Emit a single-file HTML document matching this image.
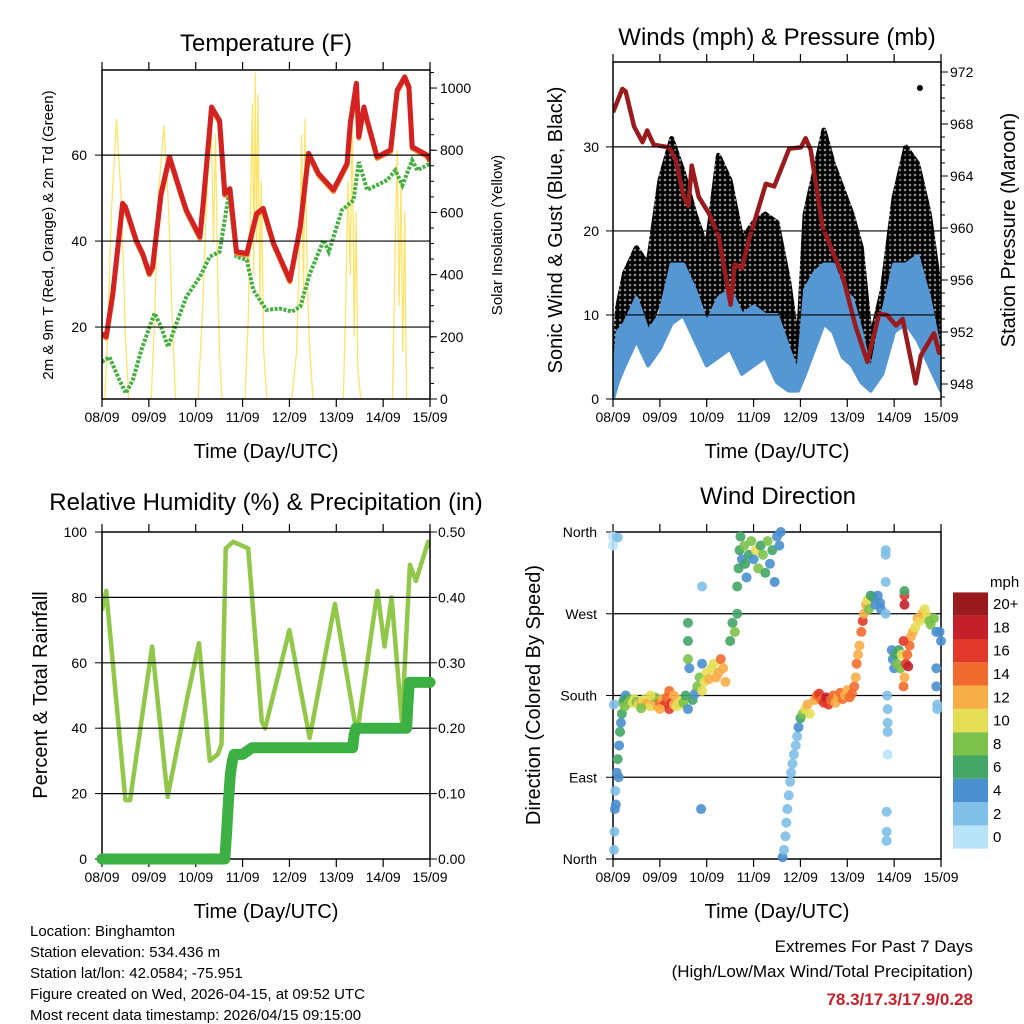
<!DOCTYPE html>
<html><head><meta charset="utf-8">
<style>
html,body{margin:0;padding:0;background:#fff;}
svg{display:block;font-family:"Liberation Sans",sans-serif;}
</style></head>
<body>
<svg id="c" width="1024" height="1024" viewBox="0 0 1024 1024" xmlns="http://www.w3.org/2000/svg">
<defs>
<pattern id="dots" width="5" height="5" patternUnits="userSpaceOnUse">
<rect width="5" height="5" fill="#000" fill-opacity="0.25"/>
<circle cx="2.5" cy="2.5" r="2.6" fill="#000"/>
</pattern>
</defs>
<g id="g"></g>
<text x="266" y="51" font-size="24" text-anchor="middle">Temperature (F)</text>
<text x="777" y="45" font-size="24" text-anchor="middle">Winds (mph) &amp; Pressure (mb)</text>
<text x="266" y="510" font-size="24" text-anchor="middle">Relative Humidity (%) &amp; Precipitation (in)</text>
<text x="778" y="504" font-size="24" text-anchor="middle">Wind Direction</text>
<text x="266" y="458" font-size="20" text-anchor="middle">Time (Day/UTC)</text>
<text x="777" y="458" font-size="20" text-anchor="middle">Time (Day/UTC)</text>
<text x="266" y="918" font-size="20" text-anchor="middle">Time (Day/UTC)</text>
<text x="777" y="918" font-size="20" text-anchor="middle">Time (Day/UTC)</text>
<text transform="translate(53,235) rotate(-90)" font-size="15" text-anchor="middle">2m &amp; 9m T (Red, Orange) &amp; 2m Td (Green)</text>
<text transform="translate(502,235) rotate(-90)" font-size="15" text-anchor="middle">Solar Insolation (Yellow)</text>
<text transform="translate(562,230) rotate(-90)" font-size="20" text-anchor="middle">Sonic Wind &amp; Gust (Blue, Black)</text>
<text transform="translate(1015,230) rotate(-90)" font-size="20" text-anchor="middle">Station Pressure (Maroon)</text>
<text transform="translate(47,695) rotate(-90)" font-size="20" text-anchor="middle">Percent &amp; Total Rainfall</text>
<text transform="translate(540,695) rotate(-90)" font-size="20" text-anchor="middle">Direction (Colored By Speed)</text>
<g font-size="15">
<text x="30" y="936">Location: Binghamton</text>
<text x="30" y="957">Station elevation: 534.436 m</text>
<text x="30" y="978">Station lat/lon: 42.0584; -75.951</text>
<text x="30" y="999">Figure created on Wed, 2026-04-15, at 09:52 UTC</text>
<text x="30" y="1020">Most recent data timestamp: 2026/04/15 09:15:00</text>
</g>
<g text-anchor="end">
<text x="973" y="952" font-size="17">Extremes For Past 7 Days</text>
<text x="973" y="977" font-size="17">(High/Low/Max Wind/Total Precipitation)</text>
<text x="973" y="1005" font-size="17" font-weight="bold" fill="#c8202a">78.3/17.3/17.9/0.28</text>
</g>
<text x="990" y="587" font-size="15">mph</text>
</svg>
<script>
const dayLabels=["08/09","09/09","10/09","11/09","12/09","13/09","14/09","15/09"];
const tempT=[0,0.09,0.23,0.44,0.5,0.73,0.87,1.01,1.08,1.26,1.44,1.66,1.8,2.09,2.16,2.34,2.51,2.62,2.73,2.87,3.09,3.3,3.44,3.66,4.01,4.23,4.41,4.62,4.94,5.23,5.3,5.43,5.48,5.59,5.66,5.87,6.16,6.3,6.46,6.55,6.62,6.94,7.0];
const tempV=[18.5,17.8,27.8,48.8,48,40.2,37,32.5,34,51,59.6,51.9,47.2,41,48.8,71.2,68,51,52.2,37.5,37.1,46.4,47.6,39.5,30.9,43.3,60.4,55.7,51.9,58.1,67.4,76.7,64.3,71.2,68.1,59.6,61.2,75.1,78.2,75.9,61.9,60,58.8];
const dewT=[0,0.16,0.37,0.51,0.66,0.84,1.12,1.26,1.41,1.59,1.8,2.09,2.3,2.51,2.71,2.87,3.09,3.23,3.51,3.8,4.05,4.23,4.44,4.73,4.84,5.12,5.37,5.48,5.66,6.09,6.26,6.41,6.62,6.73,7.0];
const dewV=[11.9,13,7.7,4.6,7.7,14.7,23.2,20.1,15.4,20.9,27,31.7,36.4,37.5,51.1,36.4,35.6,28.6,24,24.3,23.6,24.7,32.5,40.2,37.5,47.2,49.5,58.4,51.9,54.2,56.5,53,58.8,56.5,58];
const solarT=[0,0.06,0.12,0.2,0.31,0.42,0.5,0.57,1.05,1.12,1.2,1.32,1.42,1.5,1.57,2.05,2.15,2.25,2.33,2.38,2.42,2.48,2.52,2.56,3.05,3.12,3.18,3.21,3.24,3.27,3.3,3.33,3.37,3.4,3.45,3.52,4.05,4.15,4.22,4.26,4.3,4.33,4.38,4.42,4.5,5.15,5.2,5.25,5.3,5.34,5.38,5.42,5.46,5.52,6.2,6.26,6.3,6.34,6.38,6.42,6.46,6.5,7.0];
const solarV=[0,0,200,600,900,620,200,0,0,250,650,880,620,250,0,0,300,700,880,500,850,300,100,0,0,250,700,950,400,1050,500,980,300,700,150,0,0,150,500,850,300,900,400,200,0,0,300,700,400,950,200,600,100,0,0,500,800,300,700,150,600,0,0];
const pressT=[0,0.2,0.27,0.45,0.63,0.73,0.87,1.2,1.34,1.51,1.61,1.68,1.83,2.05,2.26,2.51,2.6,2.75,2.9,3.12,3.26,3.44,3.76,4.01,4.11,4.22,4.47,4.9,5.18,5.43,5.68,5.85,6.04,6.18,6.46,6.57,6.85,6.96,7.0];
const pressV=[968.9,970.7,970.5,967.8,966.6,967.5,966.4,966.2,965.2,962.4,961.7,964.8,962.4,961.1,959.3,954.1,957.2,956.9,959.1,961.7,963.4,963.2,966.1,966.2,966.9,966,960.1,956.3,952.4,949.7,953.4,953.3,952.5,953,948.05,950.2,951.9,950.4,951];
const envT=[0,0.1,0.25,0.5,0.75,1.0,1.25,1.5,1.75,2.0,2.25,2.5,2.75,3.0,3.25,3.5,3.75,3.95,4.1,4.3,4.5,4.7,4.9,5.1,5.3,5.5,5.75,6.0,6.25,6.5,6.75,7.0];
const windHi=[2,8,9,12,8,10,16,16,13,9,12,13,10,11,10,10,6,3,13,15,16,16,13,12,8,3,10,16,16,17,12,5];
const windLo=[0,2,4,7,4,6,9,10,7,4,5,6,3,4,5,2,1,1,3,6,9,8,5,4,2,1,3,8,9,7,4,1];
const gustHi=[3,11,15,18,16,26,31,27,22,18,29,26,19,21,22,21,14,6,22,27,32,28,25,22,18,7,13,24,30,28,22,12];
const gustLo=[1,5,8,10,8,12,16,15,11,8,12,11,7,8,9,8,3,2,10,13,16,14,10,8,5,2,6,14,16,13,8,3];
const gustOutT=[6.55];
const gustOutV=[37];
const rhT=[0,0.09,0.5,0.6,1.07,1.4,1.83,2.07,2.3,2.47,2.55,2.64,2.8,3.12,3.41,3.48,4.0,4.43,4.97,5.44,5.88,6.03,6.18,6.4,6.57,6.7,6.96,7.0];
const rhV=[76,82,18,18,65,19,50,66,30,32,35,95,97,95,42,40,70,37,78,38,82,65,80,42,90,85,97,95];
const prT=[0,2.62,2.66,2.7,2.74,2.78,2.82,3.0,3.2,5.35,5.38,5.42,6.5,6.53,6.56,7.0];
const prV=[0,0,0.04,0.09,0.13,0.15,0.16,0.16,0.17,0.17,0.19,0.2,0.2,0.24,0.27,0.27];
const dirT=[0.02,0.03,0.04,0.05,0.06,0.08,0.1,0.12,0.13,0.15,0.17,0.19,0.21,0.23,0.25,0.27,0.3,0.33,0.0,0.0,0.1,0.02,
0.38,0.42,0.46,0.5,0.55,0.6,0.65,0.7,0.75,0.8,0.85,0.9,0.95,1.0,1.05,1.1,1.15,1.2,1.25,1.3,1.35,1.4,1.45,1.2,1.0,0.8,0.6,1.3,
1.5,1.55,1.6,1.7,1.75,1.8,1.85,1.9,1.95,2.0,2.05,2.1,2.15,2.2,2.25,2.3,2.35,2.4,1.6,1.6,1.6,1.63,1.9,1.9,1.88,
2.5,2.55,2.6,2.65,2.65,2.68,2.7,2.72,2.75,2.8,2.82,2.85,2.9,2.95,3.0,3.05,3.1,3.15,3.2,3.25,3.3,3.35,3.4,3.45,3.5,3.55,3.58,
3.62,3.65,3.68,3.7,3.72,3.75,3.78,3.8,3.83,3.86,3.9,3.93,3.96,4.0,4.05,4.1,4.15,4.2,
4.3,4.35,4.4,4.45,4.5,4.55,4.6,4.65,4.7,4.75,4.8,4.85,4.9,4.95,5.0,5.05,5.1,
5.15,5.18,5.2,5.23,5.26,5.3,5.33,5.36,5.4,5.43,5.46,5.5,5.55,5.6,5.65,5.7,5.72,
5.82,5.82,5.82,5.82,5.85,5.86,5.86,5.86,5.86,5.84,5.84,5.84,
5.95,5.97,6.0,6.03,6.06,6.1,6.13,6.16,
6.2,6.22,6.25,6.28,6.3,6.33,6.36,6.4,6.45,6.5,6.55,6.6,6.65,6.7,6.75,6.78,6.2,6.22,6.22,6.22,
6.85,6.9,6.9,6.92,6.92,6.9,7.0,6.97];
const dirV=[10,30,55,75,60,95,110,90,125,140,150,160,172,175,168,180,176,172,355,345,354,170,
175,172,176,173,170,172,175,170,172,168,175,178,168,172,176,170,178,165,172,170,168,175,170,185,165,180,166,180,
172,180,165,175,182,190,200,185,195,205,198,210,215,200,205,220,210,195,260,240,220,210,215,300,55,
240,260,250,270,300,320,340,355,330,345,325,310,335,350,330,340,320,345,335,315,350,325,340,305,355,345,360,
2,10,25,40,55,70,85,95,105,115,125,135,145,155,160,165,170,160,
175,180,182,175,172,178,170,175,180,172,178,183,176,180,186,178,182,
190,200,215,225,235,250,262,270,280,285,275,290,288,280,290,282,275,
340,335,305,270,180,165,150,140,115,52,30,20,
230,220,210,225,215,230,210,225,
190,200,215,225,212,235,245,250,255,265,262,270,275,268,262,258,240,290,295,280,
265,250,210,170,165,190,240,250];
const dirS=[2,2,4,3,4,4,6,5,4,6,4,6,8,6,8,4,7,8,1,0,2,2,
9,11,10,8,10,12,11,13,12,10,12,9,12,15,13,16,14,17,16,13,10,11,10,15,12,11,9,12,
8,6,5,7,4,9,8,10,11,10,12,11,10,13,12,14,13,12,6,6,8,5,4,3,4,
7,6,8,7,6,7,6,6,4,8,6,5,7,9,4,10,8,7,9,6,8,5,6,5,4,4,4,
4,3,2,2,2,2,2,2,2,2,2,3,5,6,8,10,12,10,
12,14,16,14,16,18,17,15,14,12,13,14,15,12,13,15,14,
14,13,15,13,12,14,16,13,12,10,8,7,6,5,5,4,4,
2,2,2,3,2,2,2,2,1,2,2,2,
4,5,5,7,8,6,9,10,
14,13,16,14,18,15,12,13,11,12,10,12,11,10,9,8,17,17,7,18,
8,5,4,3,2,4,4,5];
const cbLabels=["0","2","4","6","8","10","12","14","16","18","20+"];
const cbColors=["#b8e3f8","#80bfe8","#4a8fcf","#43a566","#7cc24a","#e5de54","#f8ae47","#f26b2e","#e2382b","#c3202a","#9a1a1e"];

const NS="http://www.w3.org/2000/svg";
const G=document.getElementById('g');
function mk(tag,attrs,parent){const e=document.createElementNS(NS,tag);for(const k in attrs)e.setAttribute(k,attrs[k]);(parent||G).appendChild(e);return e;}
function scale(d0,d1,r0,r1){return v=>r0+(v-d0)/(d1-d0)*(r1-r0);}
function pathD(xs,ys,fx,fy){return xs.map((t,i)=>(i?'L':'M')+fx(t).toFixed(1)+','+fy(ys[i]).toFixed(1)).join('');}
function txt(x,y,s,anchor,size,parent){const e=mk('text',{x:x,y:y,'font-size':size||14,'text-anchor':anchor||'middle'},parent);e.textContent=s;return e;}

function panel(name,x0,x1,y0,y1){
  const g=mk('g',{});
  
  
  const cp=mk('clipPath',{id:'cp-'+name},g);
  mk('rect',{x:x0,y:y0,width:x1-x0,height:y1-y0},cp);
  const inner=mk('g',{'clip-path':'url(#cp-'+name+')'},g);
  return {g,inner,fx:scale(0,7,x0,x1),x0,x1,y0,y1};
}
function frame(p,gridVals,fy,leftTicks,leftLabels,rightTicks,rightLabels,fyR,rightMinor,lx,rx){
  const {g,x0,x1,y0,y1}=p;
  gridVals.forEach(v=>{const l=mk('line',{x1:x0,x2:x1,y1:fy(v),y2:fy(v),stroke:'#000','stroke-width':1.2},g);
    
    });
  mk('rect',{x:x0,y:y0,width:x1-x0,height:y1-y0,fill:'none',stroke:'#000','stroke-width':1.5},g);
  for(let d=0;d<=7;d++){const x=p.fx(d);
    mk('line',{x1:x,x2:x,y1:y0,y2:y0-8,stroke:'#000','stroke-width':1.2},g);
    mk('line',{x1:x,x2:x,y1:y1,y2:y1+8,stroke:'#000','stroke-width':1.2},g);
    const t=txt(x,y1+23,dayLabels[d],'middle',14,g);
    
    }
  leftTicks.forEach((v,i)=>{const y=fy(v);mk('line',{x1:x0,x2:x0-7,y1:y,y2:y,stroke:'#000'},g);
    const t=txt(lx,y+5,leftLabels[i],'end',14,g);
    
    });
  if(rightTicks){rightTicks.forEach((v,i)=>{const y=fyR(v);mk('line',{x1:x1,x2:x1+7,y1:y,y2:y,stroke:'#000'},g);
    const t=txt(rx,y+5,rightLabels[i],'start',14,g);
    
    });
    (rightMinor||[]).forEach(v=>{const y=fyR(v);if(y>=y0&&y<=y1)mk('line',{x1:x1,x2:x1+4,y1:y,y2:y,stroke:'#000'},g);});}
}

// Panel 1 temperature
(function(){
  const p=panel('temperature-panel',102,430,70,399);
  const fy=scale(3.26,79.8,399,70), fyR=scale(0,1058,399,70);
  const s=mk('path',{d:pathD(solarT,solarV,p.fx,fyR),fill:'none',stroke:'#fde46a','stroke-width':1.3},p.inner);
  
  
  const d=mk('path',{d:pathD(dewT,dewV,p.fx,fy),fill:'none',stroke:'#45b041','stroke-width':4,'stroke-dasharray':'3 1.5'},p.inner);
  
  
  const o=mk('path',{d:pathD(tempT,tempV,p.fx,fy),fill:'none',stroke:'#f08a2a','stroke-width':5,transform:'translate(0,1.5)','stroke-linejoin':'round'},p.inner);
  
  
  const r=mk('path',{d:pathD(tempT,tempV,p.fx,fy),fill:'none',stroke:'#d42222','stroke-width':5,'stroke-linejoin':'round'},p.inner);
  
  
  const minor=[];for(let v=0;v<=1050;v+=50)minor.push(v);
  frame(p,[20,40,60],fy,[20,40,60],["20","40","60"],[0,200,400,600,800,1000],["0","200","400","600","800","1000"],fyR,minor,87,440);
})();

// Panel 2 winds
(function(){
  const p=panel('winds-panel',613,941,62,399);
  const fy=scale(0,40.1,399,62), fyR=scale(948,972,384,72);
  const band=(hi,lo,col,nm,sw)=>{const dd=pathD(envT,hi,p.fx,fy)+pathD(envT.slice().reverse(),lo.slice().reverse(),p.fx,fy).replace('M','L')+'Z';
    const e=mk('path',{d:dd,fill:col,stroke:col,'stroke-width':sw,'stroke-linejoin':'round'},p.inner);
    
    };
  band(gustHi,gustLo,'url(#dots)','gust-band',5);
  band(windHi,windLo,'#5597d2','wind-band',4);
  gustOutT.forEach((t,i)=>{const c=mk('circle',{cx:p.fx(t),cy:fy(gustOutV[i]),r:3,fill:'#000'},p.inner);
    
    });
  const pr=mk('path',{d:pathD(pressT,pressV,p.fx,fyR),fill:'none',stroke:'#9a1b1e','stroke-width':4.5,'stroke-linejoin':'round'},p.inner);
  
  
  const minor=[];for(let v=946;v<=973;v++)minor.push(v);
  frame(p,[10,20,30],fy,[0,10,20,30],["0","10","20","30"],[948,952,956,960,964,968,972],["948","952","956","960","964","968","972"],fyR,minor,599,950);
})();

// Panel 3 humidity
(function(){
  const p=panel('humidity-panel',102,430,532,859);
  const fy=scale(0,100,859,532), fyR=scale(0,0.5,859,532);
  const pr=mk('path',{d:pathD(prT,prV,p.fx,fyR),fill:'none',stroke:'#3cb043','stroke-width':11,'stroke-linecap':'round','stroke-linejoin':'round'},G);
  
  
  const rh=mk('path',{d:pathD(rhT,rhV,p.fx,fy),fill:'none',stroke:'#92c84a','stroke-width':4.5,'stroke-linejoin':'round'},p.inner);
  
  
  frame(p,[20,40,60,80],fy,[0,20,40,60,80,100],["0","20","40","60","80","100"],[0,0.1,0.2,0.3,0.4,0.5],["0.00","0.10","0.20","0.30","0.40","0.50"],fyR,null,87,438);
})();

// Panel 4 wind direction
(function(){
  const p=panel('wind-direction-panel',613,941,532,859);
  const fy=scale(0,360,859,532);
  dirT.forEach((t,i)=>{const idx=Math.min(10,Math.floor(dirS[i]/2));
    const c=mk('circle',{cx:p.fx(t),cy:fy(dirV[i]),r:5,fill:cbColors[idx],'fill-opacity':0.9},G);
    
    });
  frame(p,[90,180,270],fy,[0,90,180,270,360],["North","East","South","West","North"],null,null,null,null,597);
  const cb=mk('g',{});
  
  
  const h=23.3, top=592.4;
  cbColors.forEach((c,i)=>{const y=top+(10-i)*h;
    mk('rect',{x:953,y:y,width:35,height:h,fill:c},cb);
    const t=txt(993,y+h/2+5,cbLabels[i],'start',15,cb);
    
    });
})();
</script>
</body></html>
